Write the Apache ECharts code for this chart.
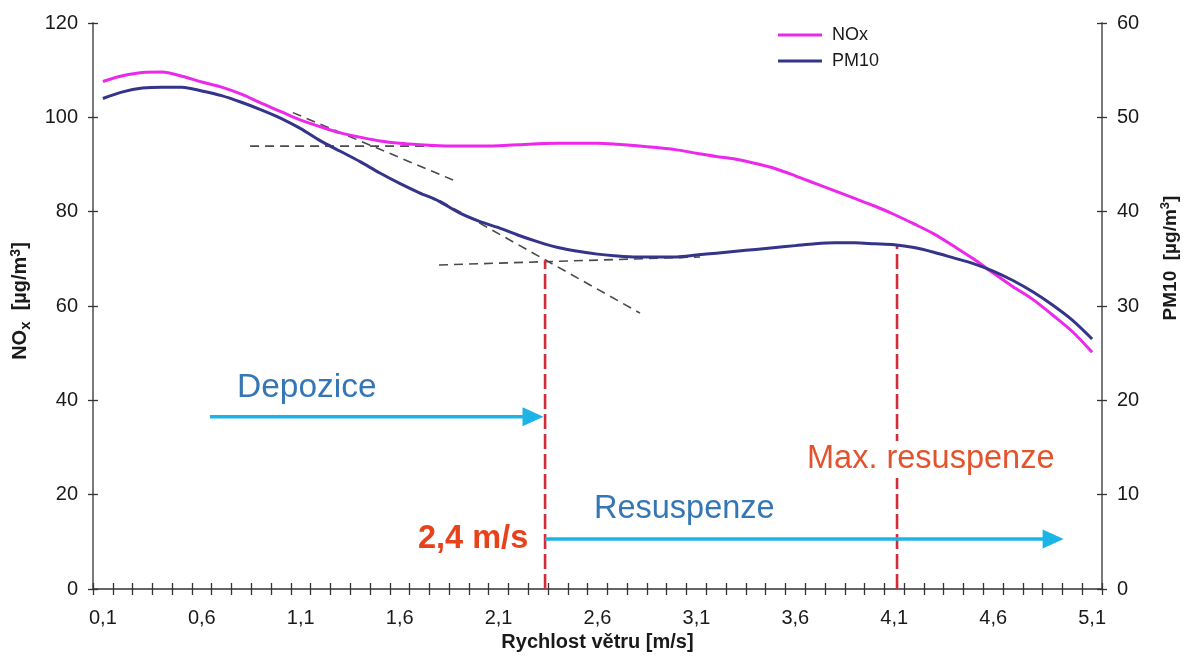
<!DOCTYPE html>
<html>
<head>
<meta charset="utf-8">
<script src="https://cdn.jsdelivr.net/npm/echarts@6/dist/echarts.min.js"></script>
<style>
  html, body { margin: 0; padding: 0; background: #fff; }
  #chart { width: 1189px; height: 666px; }
</style>
</head>
<body>
<div id="chart"></div>
<script>
const categories = ['0,1','0,2','0,3','0,4','0,5','0,6','0,7','0,8','0,9','1,0',
  '1,1','1,2','1,3','1,4','1,5','1,6','1,7','1,8','1,9','2,0',
  '2,1','2,2','2,3','2,4','2,5','2,6','2,7','2,8','2,9','3,0',
  '3,1','3,2','3,3','3,4','3,5','3,6','3,7','3,8','3,9','4,0',
  '4,1','4,2','4,3','4,4','4,5','4,6','4,7','4,8','4,9','5,0','5,1'];

const noxValues = [107.6,108.8,109.5,109.6,108.7,107.5,106.4,104.9,103.0,101.2,
  99.4,98.0,96.7,95.8,95.0,94.5,94.2,94.0,93.9,93.9,
  94.0,94.2,94.4,94.5,94.5,94.5,94.3,94.0,93.6,93.1,
  92.4,91.7,91.1,90.2,89.1,87.6,86.0,84.4,82.8,81.2,
  79.4,77.4,75.3,72.7,70.0,67.0,64.1,61.4,58.1,54.6,50.2];

const pm10Values = [52.0,52.7,53.1,53.2,53.2,52.8,52.3,51.6,50.8,49.9,
  48.8,47.5,46.4,45.3,44.1,43.0,42.0,41.1,39.9,39.0,
  38.3,37.5,36.8,36.2,35.8,35.5,35.3,35.2,35.2,35.2,
  35.4,35.6,35.8,36.0,36.2,36.4,36.6,36.7,36.7,36.6,
  36.5,36.2,35.7,35.1,34.5,33.7,32.7,31.5,30.1,28.5,26.5];

const noxTicks = [0, 120, 20];
const pm10Ticks = [0, 60, 10];

// annotation geometry in data units (x: m/s, y: NOx scale)
const guideLines = [
  [[0.844, 93.9], [1.956, 93.9]],
  [[1.060, 101.0], [1.870, 86.7]],
  [[1.799, 68.7], [3.118, 70.4]],
  [[1.804, 82.3], [2.815, 58.5]]
];
const thresholdLines = [
  [[2.335, 0], [2.335, 69.7]],
  [[4.114, 0], [4.114, 72.9]]
];
const arrowLines = [
  [[0.641, 36.5], [2.274, 36.5]],
  [[2.335, 10.6], [4.903, 10.6]]
];

const FONT = "'Liberation Sans', Arial, sans-serif";
const AXIS_COLOR = '#7a7a7a';
const TEXT_COLOR = '#1a1a1a';

const chart = echarts.init(document.getElementById('chart'), null, { renderer: 'canvas' });

function valueAxisMain(pos, t, name, extra) {
  return Object.assign({
    type: 'value', position: pos, min: t[0], max: t[1], interval: t[2],
    axisLine: { show: true, lineStyle: { color: AXIS_COLOR, width: 2 } },
    axisTick: { show: true, inside: false, length: 5, lineStyle: { color: '#333', width: 1.3 } },
    axisLabel: { fontSize: 20, color: TEXT_COLOR, fontFamily: FONT, margin: 15 },
    splitLine: { show: false },
    name: name
  }, extra || {});
}
function valueAxisDup(pos, t) {
  return {
    type: 'value', position: pos, min: t[0], max: t[1], interval: t[2],
    axisLine: { show: false },
    axisTick: { show: true, inside: true, length: 5, lineStyle: { color: '#333', width: 1.3 } },
    axisLabel: { show: false },
    splitLine: { show: false }
  };
}

const annotationSeries = [];
guideLines.forEach(function (seg) {
  annotationSeries.push({
    type: 'line', xAxisIndex: 2, yAxisIndex: 0, data: seg, symbol: 'none', silent: true,
    lineStyle: { color: '#4a4a4a', width: 1.6, type: [9, 6] }, z: 3
  });
});
thresholdLines.forEach(function (seg) {
  annotationSeries.push({
    type: 'line', xAxisIndex: 2, yAxisIndex: 0, data: seg, symbol: 'none', silent: true,
    lineStyle: { color: '#d42a3a', width: 2.6, type: [15, 5] }, z: 3
  });
});
arrowLines.forEach(function (seg) {
  annotationSeries.push({
    type: 'line', xAxisIndex: 2, yAxisIndex: 0, silent: true,
    data: [
      { value: seg[0], symbol: 'none' },
      { value: seg[1], symbol: 'triangle', symbolRotate: -90, symbolSize: [19, 21] }
    ],
    showSymbol: true,
    itemStyle: { color: '#1cb4e6' },
    lineStyle: { color: '#1cb4e6', width: 3.5 }, z: 3
  });
});

const option = {
  backgroundColor: '#ffffff',
  animation: false,
  textStyle: { fontFamily: FONT },
  grid: { left: 93, right: 87, top: 23, bottom: 77, containLabel: false },
  legend: {
    data: ['NOx', 'PM10'],
    orient: 'vertical', left: 773, top: 21,
    icon: 'rect', itemWidth: 44, itemHeight: 3, itemGap: 8,
    textStyle: { fontSize: 18, color: TEXT_COLOR, fontFamily: FONT, padding: [0, 0, 0, 5] }
  },
  xAxis: [
    {
      type: 'category', data: categories, boundaryGap: true, position: 'bottom',
      axisLine: { show: true, lineStyle: { color: '#333', width: 1.5 } },
      axisTick: { show: true, interval: 0, inside: false, length: 6, lineStyle: { color: '#333', width: 1.3 } },
      axisLabel: { interval: 4, fontSize: 20, color: TEXT_COLOR, fontFamily: FONT, margin: 19 },
      splitLine: { show: false },
      name: 'Rychlost větru [m/s]', nameLocation: 'middle', nameGap: 43,
      nameTextStyle: { fontSize: 20, fontWeight: 'bold', color: TEXT_COLOR, fontFamily: FONT }
    },
    {
      type: 'category', data: categories, boundaryGap: true, position: 'bottom',
      axisLine: { show: false },
      axisTick: { show: true, interval: 0, inside: true, length: 6, lineStyle: { color: '#333', width: 1.3 } },
      axisLabel: { show: false }, splitLine: { show: false }
    },
    { type: 'value', min: 0.05, max: 5.15, show: false }
  ],
  yAxis: [
    valueAxisMain('left', noxTicks, 'NO{sub|x}  [µg/m{sup|3}]', {
      nameLocation: 'middle', nameGap: 56, nameRotate: 90,
      nameTextStyle: {
        fontSize: 20, fontWeight: 'bold', color: TEXT_COLOR, fontFamily: FONT,
        padding: [0, 0, 0, 10],
        rich: {
          sub: { fontSize: 15, fontWeight: 'bold', color: TEXT_COLOR, padding: [11, 0, 0, 0] },
          sup: { fontSize: 14, fontWeight: 'bold', color: TEXT_COLOR, padding: [0, 0, 10, 0] }
        }
      }
    }),
    valueAxisMain('right', pm10Ticks, 'PM10  [µg/m{sup|3}]', {
      nameLocation: 'middle', nameGap: 57, nameRotate: 90,
      nameTextStyle: {
        fontSize: 19, fontWeight: 'bold', color: TEXT_COLOR, fontFamily: FONT,
        padding: [0, 0, 0, 96],
        rich: {
          sup: { fontSize: 13, fontWeight: 'bold', color: TEXT_COLOR, padding: [0, 0, 10, 0] }
        }
      }
    }),
    valueAxisDup('left', noxTicks),
    valueAxisDup('right', pm10Ticks)
  ],
  series: [
    {
      name: 'NOx', type: 'line', xAxisIndex: 0, yAxisIndex: 0, data: noxValues,
      symbol: 'none', smooth: 0.3, color: '#ec28ec',
      lineStyle: { color: '#ec28ec', width: 3 }, z: 4
    },
    {
      name: 'PM10', type: 'line', xAxisIndex: 0, yAxisIndex: 1, data: pm10Values,
      symbol: 'none', smooth: 0.3, color: '#34348a',
      lineStyle: { color: '#34348a', width: 3 }, z: 4
    }
  ].concat(annotationSeries),
  graphic: [
    { type: 'text', left: 237, top: 371, z: 100,
      style: { text: 'Depozice', font: "33.5px 'Liberation Sans', Arial, sans-serif", fill: '#3576b4' } },
    { type: 'text', left: 594, top: 493, z: 100,
      style: { text: 'Resuspenze', font: "32.5px 'Liberation Sans', Arial, sans-serif", fill: '#3576b4' } },
    { type: 'text', left: 805, top: 441, z: 100,
      style: { text: 'Max. resuspenze', font: "32.5px 'Liberation Sans', Arial, sans-serif", fill: '#e2532e',
               backgroundColor: '#ffffff', padding: [2, 2, 2, 2] } },
    { type: 'text', left: 418, top: 523, z: 100,
      style: { text: '2,4 m/s', font: "bold 32.5px 'Liberation Sans', Arial, sans-serif", fill: '#e8421c' } }
  ]
};

chart.setOption(option);
</script>
</body>
</html>
